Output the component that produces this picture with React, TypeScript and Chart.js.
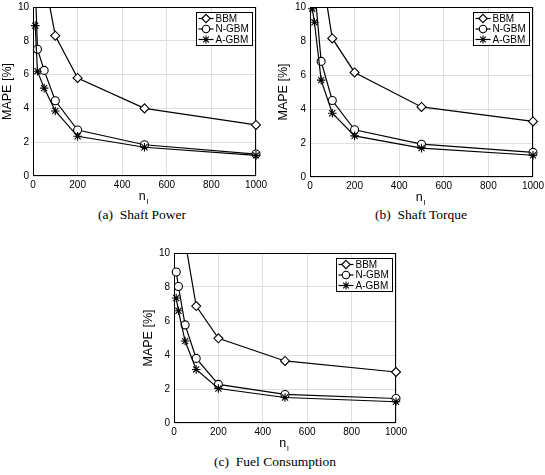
import React, { useEffect, useRef } from "react";
import { Chart, registerables } from "chart.js";
import { drawPoint } from "chart.js/helpers";

Chart.register(...registerables);

// ---- data ----
const xValues = [10, 20, 50, 100, 200, 500, 1000];
const seriesLabels = ["BBM", "N-GBM", "A-GBM"];
const xTicks = [0, 200, 400, 600, 800, 1000];
const yTicks = [0, 2, 4, 6, 8, 10];

const powerBBM = [25, 17, 11.8, 8.3, 5.8, 4.0, 3.02];
const powerNGBM = [11.5, 7.5, 6.25, 4.45, 2.72, 1.85, 1.3];
const powerAGBM = [8.9, 6.2, 5.2, 3.85, 2.35, 1.7, 1.22];

const torqueBBM = [28, 19, 12.3, 8.15, 6.15, 4.12, 3.27];
const torqueNGBM = [14, 11.2, 6.8, 4.5, 2.78, 1.93, 1.45];
const torqueAGBM = [9.9, 9.1, 5.7, 3.75, 2.42, 1.7, 1.28];

const fuelBBM = [24, 16, 10.7, 6.88, 4.98, 3.65, 3.0];
const fuelNGBM = [8.88, 8.03, 5.77, 3.8, 2.27, 1.68, 1.44];
const fuelAGBM = [7.35, 6.6, 4.82, 3.15, 2.03, 1.5, 1.25];

const captions = ["(a)  Shaft Power", "(b)  Shaft Torque", "(c)  Fuel Consumption"];

const SANS = "'Liberation Sans', Arial, Helvetica, sans-serif";
const SERIF = "'Liberation Serif', 'Times New Roman', serif";
const GRID = "#dedede";

const markerStyles = [
  { pointStyle: "rectRot", radius: 4.5 },
  { pointStyle: "circle", radius: 4 },
  { pointStyle: "star", radius: 4.3 },
];

type Spec = {
  left: number;
  top: number;
  w: number;
  h: number;
  area: { left: number; top: number; right: number; bottom: number };
  yTitlePad: number;
  series: number[][];
  caption: string;
  capX: number;
  capY: number;
};

const specs: Spec[] = [
  {
    left: 0, top: 0, w: 268, h: 205,
    area: { left: 33, top: 7, right: 256, bottom: 176 },
    yTitlePad: 0,
    series: [powerBBM, powerNGBM, powerAGBM],
    caption: captions[0], capX: 142, capY: 207,
  },
  {
    left: 270, top: 0, w: 275, h: 205,
    area: { left: 40, top: 7, right: 263, bottom: 177 },
    yTitlePad: 6.5,
    series: [torqueBBM, torqueNGBM, torqueAGBM],
    caption: captions[1], capX: 421, capY: 207,
  },
  {
    left: 140, top: 246, w: 270, h: 205,
    area: { left: 34, top: 7, right: 256, bottom: 177 },
    yTitlePad: 1.5,
    series: [fuelBBM, fuelNGBM, fuelAGBM],
    caption: captions[2], capX: 275, capY: 454,
  },
];

const framePlugin = {
  id: "frame",
  beforeDatasetsDraw(chart: any) {
    const { ctx, chartArea: a } = chart;
    ctx.save();
    ctx.strokeStyle = "#000";
    ctx.lineWidth = 1;
    const l = Math.round(a.left) + 0.5;
    const t = Math.round(a.top) + 0.5;
    const r = Math.round(a.right) - 0.5;
    const b = Math.round(a.bottom) - 0.5;
    ctx.strokeRect(l, t, r - l, b - t);
    ctx.restore();
  },
  afterDraw(chart: any) {
    const { ctx, chartArea: a } = chart;
    ctx.save();
    // legend box
    const bw = 56, bh = 33;
    const bx = Math.round(a.right - 4 - bw) + 0.5;
    const by = Math.round(a.top + 4.5) + 0.5;
    ctx.fillStyle = "#fff";
    ctx.fillRect(bx, by, bw, bh);
    ctx.strokeStyle = "#000";
    ctx.lineWidth = 1;
    ctx.strokeRect(bx, by, bw, bh);
    ctx.font = `10px ${SANS}`;
    ctx.textBaseline = "middle";
    ctx.textAlign = "left";
    seriesLabels.forEach((lab, i) => {
      const y = by + 6 + i * 10.5;
      ctx.strokeStyle = "#000";
      ctx.lineWidth = 1.2;
      ctx.beginPath();
      ctx.moveTo(bx + 2, y);
      ctx.lineTo(bx + 17, y);
      ctx.stroke();
      ctx.fillStyle = "#fff";
      ctx.lineWidth = 1.1;
      drawPoint(ctx, { pointStyle: markerStyles[i].pointStyle as any, radius: markerStyles[i].radius - 0.3, rotation: 0, borderWidth: 1.1 }, bx + 9.5, y);
      ctx.fillStyle = "#000";
      ctx.fillText(lab, bx + 19, y + 0.5);
    });
    // x title n_l
    const cx = (a.left + a.right) / 2;
    ctx.fillStyle = "#000";
    ctx.textBaseline = "alphabetic";
    ctx.font = `12.5px ${SANS}`;
    const wn = ctx.measureText("n").width;
    ctx.font = `8px ${SANS}`;
    const wl = ctx.measureText("l").width;
    const sx = cx - (wn + wl + 1) / 2 - 1;
    ctx.font = `12.5px ${SANS}`;
    ctx.fillText("n", sx, a.bottom + 24);
    ctx.font = `8px ${SANS}`;
    ctx.fillText("l", sx + wn + 1, a.bottom + 27.5);
    ctx.restore();
  },
};

function Plot({ spec }: { spec: Spec }) {
  const ref = useRef<HTMLCanvasElement>(null);
  useEffect(() => {
    if (!ref.current) return;
    const tickFont = { family: SANS, size: 10 };
    const orders = [3, 2, 1];
    const chart = new Chart(ref.current, {
      type: "line",
      data: {
        datasets: seriesLabels.map((lab, i) => ({
          label: lab,
          data: xValues.map((x, j) => ({ x, y: spec.series[i][j] })),
          borderColor: "#000",
          backgroundColor: "#fff",
          pointBackgroundColor: "#fff",
          pointBorderColor: "#000",
          borderWidth: 1.2,
          pointBorderWidth: 1.1,
          pointStyle: markerStyles[i].pointStyle as any,
          pointRadius: markerStyles[i].radius,
          tension: 0,
          order: orders[i],
          clip: { left: 8, right: 8, top: 0, bottom: 8 } as any,
        })),
      },
      options: {
        responsive: false,
        maintainAspectRatio: false,
        animation: false,
        events: [],
        layout: {
          padding: { left: 0, top: spec.area.top, right: spec.w - spec.area.right, bottom: 0 },
        },
        plugins: { legend: { display: false }, tooltip: { enabled: false } },
        scales: {
          x: {
            type: "linear",
            min: 0,
            max: 1000,
            afterBuildTicks: (s: any) => {
              s.ticks = xTicks.map((v) => ({ value: v }));
            },
            ticks: {
              font: tickFont,
              color: "#000",
              padding: 3,
              maxRotation: 0,
              autoSkip: false,
              callback: (v: any) => String(v),
            },
            grid: { color: GRID, drawTicks: false, lineWidth: 1 },
            border: { display: false },
            afterFit: (s: any) => {
              s.height = spec.h - spec.area.bottom;
              s.paddingLeft = 0;
              s.paddingRight = 0;
            },
          },
          y: {
            type: "linear",
            min: 0,
            max: 10,
            afterBuildTicks: (s: any) => {
              s.ticks = yTicks.map((v) => ({ value: v }));
            },
            ticks: { font: tickFont, color: "#000", padding: 4, autoSkip: false, callback: (v: any) => String(v) },
            grid: { color: GRID, drawTicks: false, lineWidth: 1 },
            border: { display: false },
            title: {
              display: true,
              text: "MAPE [%]",
              color: "#000",
              font: { family: SANS, size: 12.5 },
              padding: { top: spec.yTitlePad, bottom: 0 },
            },
            afterFit: (s: any) => {
              s.width = spec.area.left;
              s.paddingTop = 0;
              s.paddingBottom = 0;
            },
          },
        },
      },
      plugins: [framePlugin],
    });
    return () => chart.destroy();
  }, [spec]);
  return (
    <canvas
      ref={ref}
      width={spec.w}
      height={spec.h}
      style={{ position: "absolute", left: spec.left, top: spec.top, width: spec.w, height: spec.h }}
    />
  );
}

export default function App() {
  return (
    <div style={{ position: "absolute", left: 0, top: 0, width: 545, height: 475, background: "#fff", overflow: "hidden" }}>
      {specs.map((s, i) => (
        <React.Fragment key={i}>
          <Plot spec={s} />
          <div
            style={{
              position: "absolute",
              left: s.capX - 120,
              top: s.capY,
              width: 240,
              textAlign: "center",
              fontFamily: SERIF,
              fontSize: 13.5,
              lineHeight: "16px",
              color: "#000",
              whiteSpace: "pre",
            }}
          >
            {s.caption}
          </div>
        </React.Fragment>
      ))}
    </div>
  );
}
